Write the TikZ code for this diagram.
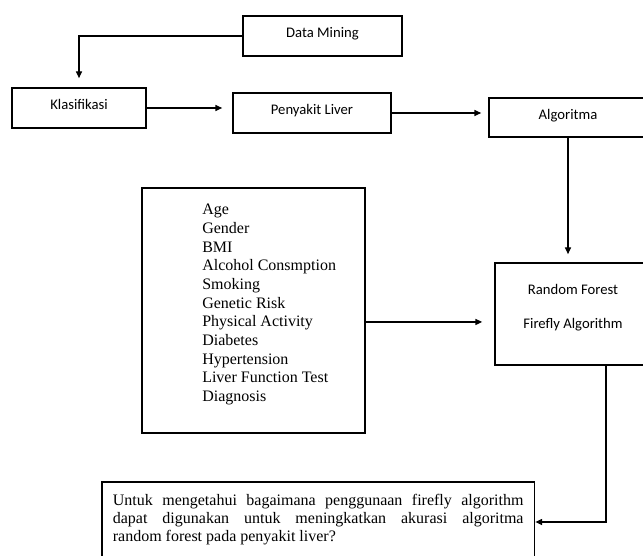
\documentclass[tikz,border=0pt]{standalone}
\usepackage{fontspec}
\setmainfont{Liberation Serif}
\newfontfamily\calfont{Carlito}
\usetikzlibrary{arrows.meta}

\tikzset{
	stage/.style={draw, rectangle, line width=1.3pt, font=\calfont\fontsize{11}{13}\selectfont,
		text height=8pt, text depth=5.5pt},
	frame/.style={draw, rectangle, line width=1.3pt},
	flow/.style={-{Triangle[length=5pt,width=4.5pt]}, line width=.8pt},
}

\begin{document}
\begin{tikzpicture}[x=.75pt, y=-.75pt]
	\def\boxw{118.5pt} % Width of the top row boxes
	\def\boxh{30pt}    % Height of the top row boxes
	\useasboundingbox (0,0) rectangle (643,556);
	
	% Top row
	\node[stage, minimum width=119pt, minimum height=\boxh] (dm) at (322.5,36) {Data Mining};
	\node[stage, minimum width=100.5pt, minimum height=\boxh] (kl) at (79,108) {Klasifikasi};
	\node[stage, minimum width=\boxw, minimum height=\boxh] (pl) at (312,113) {Penyakit Liver};
	\node[stage, minimum width=\boxw, minimum height=29pt] (al) at (568,117.5) {Algoritma};
	
	% Attributes of the data set
	\node[frame, minimum width=167pt, minimum height=184pt] (var) at (253.5,310.5) {};
	\node[anchor=north west, inner sep=0, align=left, font=\fontsize{12}{14}\selectfont] (varlist) at (202,204)
	{Age\\Gender\\BMI\\Alcohol Consmption\\Smoking\\Genetic Risk\\Physical Activity\\Diabetes\\Hypertension\\Liver Function Test\\Diagnosis};
	
	% Methods
	\node[frame, minimum width=117pt, minimum height=76.5pt] (rf) at (573,314) {};
	\node[align=center, font=\calfont\fontsize{11}{13}\selectfont] (rftext) at (573,307.5)
	{Random Forest\\[12.6pt]Firefly Algorithm};
	
	% Research question
	\node[frame, anchor=north west, inner xsep=8.25pt, inner ysep=9.5pt] (q) at (101,481)
	{\parbox[t][90pt][t]{308pt}{\fontsize{12}{13.5}\selectfont
			Untuk mengetahui bagaimana penggunaan firefly algorithm\linebreak
			dapat digunakan untuk meningkatkan akurasi algoritma\linebreak
			random forest pada penyakit liver?}};
	
	\coordinate (turn) at (606,522);
	
	\draw[flow, shorten >=6.75pt] (dm.west) -| (kl.north);
	\draw[flow, shorten >=7.5pt] (kl.east) -- (kl.east -| pl.west);
	\draw[flow, shorten >=5.25pt] (pl.east) -- (pl.east -| al.west);
	\draw[flow, shorten >=6pt] (al.south) -- (al.south |- rf.north);
	\draw[flow, shorten >=9pt] ([yshift=-8.6pt]var.east) -- ([yshift=-8.6pt]var.east -| rf.west);
	\draw[flow] (rf.south -| turn) -- (turn) -- (turn -| q.east);
\end{tikzpicture}
\end{document}
